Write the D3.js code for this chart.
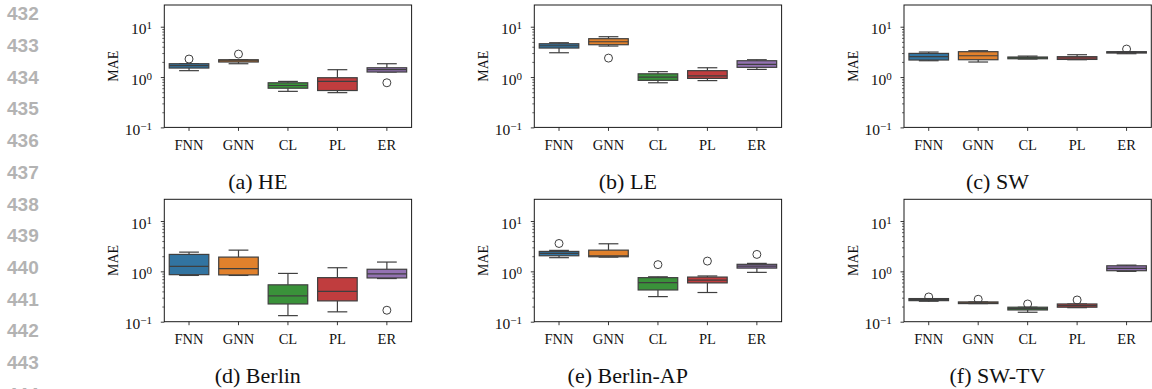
<!DOCTYPE html>
<html>
<head>
<meta charset="utf-8">
<script src="https://cdn.jsdelivr.net/npm/d3@7"></script>
<style>
  body { margin: 0; background: #fff; }
  svg { display: block; }
</style>
</head>
<body>
<svg id="fig" width="1152" height="389"></svg>
<script>
// categories on the x axis of every panel
const methods = ["FNN", "GNN", "CL", "PL", "ER"];
const palette = ["#3274a1", "#e1812c", "#3a923a", "#c03d3e", "#9372b2"];

// box stats per method: [whisker low, q1, median, q3, whisker high]
const heStats = [[1.34, 1.51, 1.68, 1.84, 1.84], [1.84, 1.99, 2.11, 2.21, 2.21], [0.52, 0.60, 0.68, 0.77, 0.82], [0.49, 0.54, 0.82, 0.97, 1.40], [1.26, 1.26, 1.40, 1.53, 1.84]];
const heOutliers = [[2.28], [2.86], [], [], [0.77]];

const leStats = [[3.04, 3.77, 4.19, 4.59, 4.81], [4.13, 4.39, 5.03, 5.78, 6.33], [0.77, 0.86, 1.0, 1.16, 1.28], [0.85, 0.94, 1.06, 1.34, 1.53], [1.42, 1.56, 1.79, 2.11, 2.21]];
const leOutliers = [[], [2.38], [], [], []];

const swStats = [[2.11, 2.18, 2.54, 2.95, 3.14], [1.99, 2.21, 2.65, 3.19, 3.34], [2.28, 2.31, 2.42, 2.50, 2.61], [2.21, 2.24, 2.39, 2.54, 2.78], [2.91, 3.00, 3.09, 3.19, 3.19]];
const swOutliers = [[], [], [], [], [3.60]];

const berlinStats = [[0.83, 0.86, 1.26, 2.17, 2.41], [0.83, 0.85, 1.13, 1.92, 2.64], [0.132, 0.225, 0.325, 0.54, 0.91], [0.157, 0.259, 0.40, 0.75, 1.18], [0.72, 0.74, 0.89, 1.10, 1.53]];
const berlinOutliers = [[], [], [], [], [0.169]];

const berlinApStats = [[1.87, 2.04, 2.27, 2.49, 2.61], [1.92, 1.95, 2.04, 2.64, 3.53], [0.315, 0.427, 0.60, 0.75, 0.78], [0.38, 0.59, 0.67, 0.77, 0.81], [0.955, 1.16, 1.27, 1.38, 1.44]];
const berlinApOutliers = [[3.58], [], [1.36], [1.60], [2.17]];

const swTvStats = [[0.255, 0.262, 0.275, 0.288, 0.288], [0.229, 0.229, 0.236, 0.247, 0.247], [0.154, 0.171, 0.182, 0.194, 0.194], [0.19, 0.194, 0.209, 0.225, 0.225], [1.0, 1.03, 1.15, 1.29, 1.33]];
const swTvOutliers = [[0.31], [0.279], [0.225], [0.270], []];

const titles = ["(a) HE", "(b) LE", "(c) SW", "(d) Berlin", "(e) Berlin-AP", "(f) SW-TV"];
const lineNumbers = [432, 433, 434, 435, 436, 437, 438, 439, 440, 441, 442, 443, 444];

const yMajor = [0.1, 1, 10];
const yMajorExp = ["\u22121", "0", "1"];
const yMinor = [0.2, 0.3, 0.4, 0.5, 0.6, 0.7, 0.8, 0.9, 2, 3, 4, 5, 6, 7, 8, 9];

const panels = [
  {stats: heStats, outliers: heOutliers},
  {stats: leStats, outliers: leOutliers},
  {stats: swStats, outliers: swOutliers},
  {stats: berlinStats, outliers: berlinOutliers},
  {stats: berlinApStats, outliers: berlinApOutliers},
  {stats: swTvStats, outliers: swTvOutliers}
].map((p, i) => ({...p, title: titles[i]}));

const svg = d3.select("#fig");
svg.append("rect").attr("width", 1152).attr("height", 389).attr("fill", "#fff");

// margin line numbers (the last one is cut by the page edge, as in the source)
svg.append("g")
  .selectAll("text")
  .data(lineNumbers)
  .join("text")
    .attr("x", 7)
    .attr("y", (d, i) => 13.5 + i * 31.7 + 6.8)
    .attr("font-family", "'Liberation Sans', Arial, sans-serif")
    .attr("font-weight", "bold")
    .attr("font-size", "19px")
    .attr("fill", "#b3b3b3")
    .text(d => d);

const serif = "'Liberation Serif', 'Times New Roman', Times, serif";
const colLeft = [164.3, 534.3, 904];
const rowTop = [5, 199.3];
const width = 247.3, height = 122.4;
const edge = "#3f3f3f";

panels.forEach((p, idx) => {
  const left = colLeft[idx % 3];
  const top = rowTop[Math.floor(idx / 3)];
  const g = svg.append("g").attr("transform", `translate(${left},${top})`);

  const x = d3.scaleBand().domain(methods).range([0, width]).paddingInner(0.2).paddingOuter(0.1);
  const y = d3.scaleLog().domain([0.1, 27]).range([height, 0]);
  const bw = x.bandwidth();

  // minor ticks
  g.append("g")
    .call(d3.axisLeft(y).tickValues(yMinor).tickSize(2).tickFormat(""))
    .call(a => a.select(".domain").remove())
    .call(a => a.selectAll("line").attr("stroke", "#222").attr("stroke-width", 0.7));

  // major ticks
  const yAx = g.append("g")
    .call(d3.axisLeft(y).tickValues(yMajor).tickSize(3.5).tickFormat(""))
    .call(a => a.select(".domain").remove())
    .call(a => a.selectAll("line").attr("stroke", "#222").attr("stroke-width", 0.9));

  yAx.selectAll(".tick").each(function(d, i) {
    const t = d3.select(this).append("text")
      .attr("x", -12.3)
      .attr("y", 0)
      .attr("dy", "0.45em")
      .attr("text-anchor", "end")
      .attr("font-family", serif)
      .attr("font-size", "15.5px")
      .attr("fill", "#111");
    t.append("tspan").text("10");
    t.append("tspan").attr("dy", "-0.45em").attr("font-size", "11px").text(yMajorExp[i]);
  });

  // x axis
  g.append("g")
    .attr("transform", `translate(0,${height})`)
    .call(d3.axisBottom(x).tickSize(3.5).tickPadding(8.5))
    .call(a => a.select(".domain").remove())
    .call(a => a.selectAll("line").attr("stroke", "#222").attr("stroke-width", 0.9))
    .call(a => a.selectAll("text")
      .attr("font-family", serif)
      .attr("font-size", "14.5px")
      .attr("fill", "#111"));

  // boxes
  const boxes = g.append("g")
    .selectAll("g")
    .data(p.stats.map((s, i) => ({method: methods[i], s, out: p.outliers[i], color: palette[i]})))
    .join("g")
      .attr("transform", d => `translate(${x(d.method)},0)`);

  // whiskers
  boxes.append("line")
    .attr("x1", bw / 2).attr("x2", bw / 2)
    .attr("y1", d => y(d.s[0])).attr("y2", d => y(d.s[1]))
    .attr("stroke", edge).attr("stroke-width", 1.2);
  boxes.append("line")
    .attr("x1", bw / 2).attr("x2", bw / 2)
    .attr("y1", d => y(d.s[3])).attr("y2", d => y(d.s[4]))
    .attr("stroke", edge).attr("stroke-width", 1.2);
  // caps
  boxes.append("line")
    .attr("x1", bw / 4).attr("x2", bw * 3 / 4)
    .attr("y1", d => y(d.s[0])).attr("y2", d => y(d.s[0]))
    .attr("stroke", edge).attr("stroke-width", 1.2);
  boxes.append("line")
    .attr("x1", bw / 4).attr("x2", bw * 3 / 4)
    .attr("y1", d => y(d.s[4])).attr("y2", d => y(d.s[4]))
    .attr("stroke", edge).attr("stroke-width", 1.2);

  boxes.append("rect")
    .attr("x", 0)
    .attr("width", bw)
    .attr("y", d => y(d.s[3]))
    .attr("height", d => Math.max(1, y(d.s[1]) - y(d.s[3])))
    .attr("fill", d => d.color)
    .attr("stroke", edge)
    .attr("stroke-width", 1.2);

  // median
  boxes.append("line")
    .attr("x1", 0).attr("x2", bw)
    .attr("y1", d => y(d.s[2])).attr("y2", d => y(d.s[2]))
    .attr("stroke", edge).attr("stroke-width", 1.2);

  // outliers
  boxes.selectAll("circle")
    .data(d => d.out)
    .join("circle")
      .attr("cx", bw / 2)
      .attr("cy", d => y(d))
      .attr("r", 4)
      .attr("fill", "none")
      .attr("stroke", edge)
      .attr("stroke-width", 1);

  // frame
  g.append("rect")
    .attr("width", width)
    .attr("height", height)
    .attr("fill", "none")
    .attr("stroke", "#1a1a1a")
    .attr("stroke-width", 1);

  // y label
  g.append("text")
    .attr("transform", `translate(-46,${height / 2}) rotate(-90)`)
    .attr("text-anchor", "middle")
    .attr("font-family", serif)
    .attr("font-size", "14px")
    .attr("fill", "#111")
    .text("MAE");

  // caption
  g.append("text")
    .attr("x", 93.5)
    .attr("y", height + 61.5)
    .attr("text-anchor", "middle")
    .attr("font-family", serif)
    .attr("font-size", "22px")
    .attr("fill", "#111")
    .text(p.title);
});
</script>
</body>
</html>
